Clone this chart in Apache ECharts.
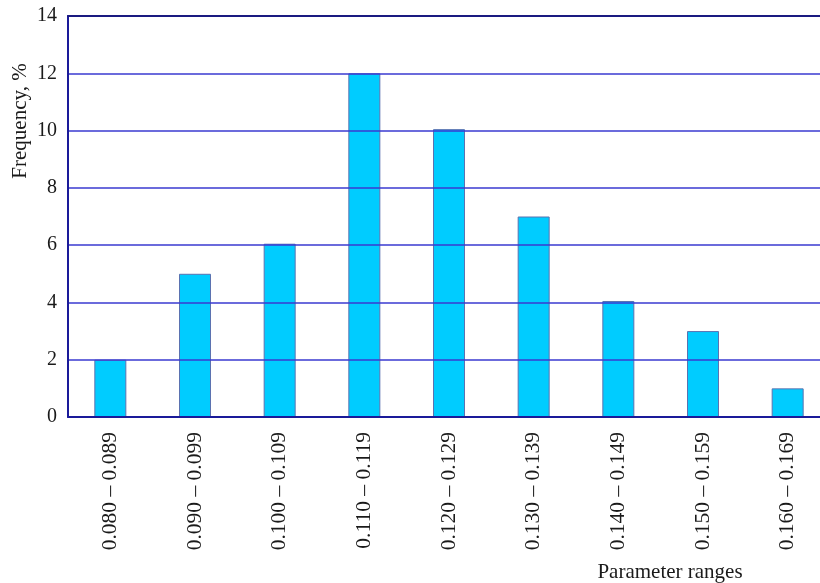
<!DOCTYPE html>
<html>
<head>
<meta charset="utf-8">
<script src="https://cdn.jsdelivr.net/npm/echarts@6/dist/echarts.min.js"></script>
<style>
html,body{margin:0;padding:0;background:#fff;overflow:hidden;}
#chart{width:830px;height:583px;}
</style>
</head>
<body>
<div id="chart"></div>
<script>
const categories = ["0.080 \u2013 0.089","0.090 \u2013 0.099","0.100 \u2013 0.109","0.110 \u2013 0.119","0.120 \u2013 0.129","0.130 \u2013 0.139","0.140 \u2013 0.149","0.150 \u2013 0.159","0.160 \u2013 0.169"];
const frequency = [2, 5, 6.05, 12, 10.05, 7, 4.05, 3, 1];
const yTicks = [0, 2, 4, 6, 8, 10, 12, 14];
const xAxisTitle = "Parameter ranges";
const yAxisTitle = "Frequency, %";

const font = "'Liberation Serif','DejaVu Serif',serif";
const chart = echarts.init(document.getElementById('chart'));
chart.setOption({
  animation: false,
  backgroundColor: '#ffffff',
  grid: { left: 68, top: 16, right: 0, bottom: 166, containLabel: false },
  xAxis: [{
    type: 'category',
    data: categories,
    position: 'bottom',
    axisLine: { show: true, lineStyle: { color: '#1a1a99', width: 2 } },
    axisTick: { show: false },
    axisLabel: { rotate: 90, margin: 15, fontFamily: font, fontSize: 21.5, color: '#1a1a1a' },
    splitLine: { show: false },
    z: 3
  }, {
    type: 'category',
    data: categories,
    position: 'top',
    axisLine: { show: true, lineStyle: { color: '#1a1a80', width: 2.2 } },
    axisTick: { show: false },
    axisLabel: { show: false },
    z: 3
  }],
  yAxis: {
    type: 'value',
    min: yTicks[0],
    max: yTicks[yTicks.length - 1],
    interval: yTicks[1] - yTicks[0],
    axisLine: { show: true, lineStyle: { color: '#1a1a99', width: 2 } },
    axisTick: { show: false },
    axisLabel: { margin: 11, fontFamily: font, fontSize: 20, color: '#1a1a1a', padding: [4, 0, 0, 0] },
    splitLine: { show: true, lineStyle: { color: '#3a3ad0', width: 1.5 } },
    z: 3
  },
  graphic: [{
    type: 'text',
    x: 20, y: 121,
    rotation: Math.PI / 2,
    style: { text: yAxisTitle, font: "21px " + font, fill: '#1a1a1a', align: 'center', verticalAlign: 'middle' }
  }, {
    type: 'text',
    x: 670, y: 572,
    style: { text: xAxisTitle, font: "21px " + font, fill: '#1a1a1a', align: 'center', verticalAlign: 'middle' }
  }],
  series: [{
    type: 'bar',
    data: frequency,
    barWidth: 32,
    z: -1,
    itemStyle: { color: '#00ccff', borderColor: '#5b72b0', borderWidth: 1 }
  }]
});
</script>
</body>
</html>
